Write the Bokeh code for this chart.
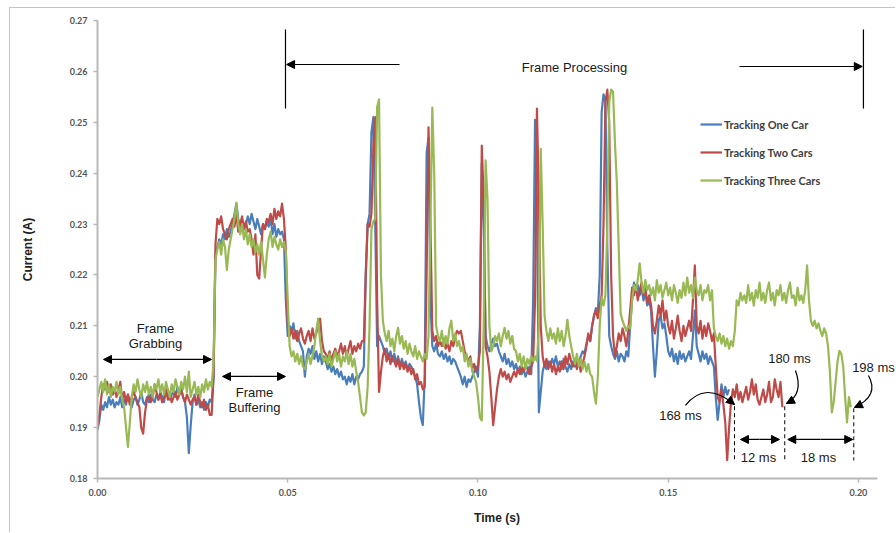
import numpy as np
from bokeh.plotting import figure
from bokeh.models import (Range1d, Legend, LegendItem, Label, Arrow, NormalHead,
                          FixedTicker, NumeralTickFormatter)
from bokeh.embed import file_html
from bokeh.resources import INLINE

# ---------------- data (current in A, sampled every 0.5 ms) ----------------
SAMPLE_STEP = 0.0005
x_ticks = [0.00, 0.05, 0.10, 0.15, 0.20]
y_ticks = [0.18, 0.19, 0.20, 0.21, 0.22, 0.23, 0.24, 0.25, 0.26, 0.27]
series_names = ["Tracking One Car", "Tracking Two Cars", "Tracking Three Cars"]

one_car = [
    .1895,.1915,.1945,.1935,.1950,.1940,.1960,.1945,.1955,.1940,
    .1950,.1945,.1960,.1940,.1955,.1945,.1965,.1950,.1940,.1955,
    .1960,.1945,.1955,.1970,.1950,.1945,.1960,.1950,.1965,.1955,
    .1950,.1965,.1955,.1970,.1960,.1950,.1975,.1960,.1955,.1965,
    .1970,.1960,.1980,.1965,.1975,.1960,.1950,.1920,.1850,.1905,
    .1950,.1965,.1945,.1955,.1940,.1950,.1935,.1950,.1940,.1955,
    .1950,.2000,.2240,.2255,.2270,.2260,.2280,.2270,.2290,.2275,
    .2285,.2300,.2320,.2340,.2310,.2295,.2305,.2290,.2300,.2315,
    .2300,.2320,.2305,.2290,.2310,.2295,.2280,.2300,.2290,.2305,
    .2295,.2310,.2280,.2300,.2275,.2290,.2280,.2285,.2270,.2150,
    .2080,.2100,.2090,.2105,.2075,.2090,.2070,.2060,.2050,.2000,
    .2040,.2055,.2045,.2060,.2035,.2050,.2030,.2045,.2025,.2040,
    .2030,.2015,.2025,.2010,.2020,.2005,.2015,.2000,.2010,.1995,
    .2000,.1985,.2000,.1990,.2005,.1985,.2000,.1995,.2005,.2010,
    .2020,.2200,.2300,.2320,.2480,.2510,.2300,.2060,.2080,.2070,
    .2060,.2045,.2055,.2035,.2050,.2030,.2045,.2025,.2040,.2020,
    .2035,.2020,.2030,.2015,.2025,.2020,.2010,.2000,.1985,.1950,
    .1920,.1905,.2000,.2440,.2470,.2150,.2060,.2050,.2065,.2045,
    .2040,.2050,.2035,.2045,.2030,.2040,.2025,.2035,.2030,.2020,
    .2010,.2000,.1985,.2000,.1980,.1995,.1990,.2000,.2010,.2020,
    .2000,.2100,.2419,.2300,.2080,.2060,.2050,.2065,.2075,.2060,
    .2065,.2050,.2040,.2030,.2045,.2025,.2035,.2020,.2030,.2015,
    .2025,.2010,.2020,.2005,.2015,.2000,.2010,.2020,.2005,.2150,
    .2505,.2350,.1930,.1970,.2010,.2025,.2015,.2030,.2020,.2035,
    .2025,.2040,.2020,.2030,.2015,.2035,.2020,.2010,.2025,.2015,
    .2030,.2020,.2035,.2025,.2040,.2050,.2045,.2065,.2080,.2070,
    .2100,.2120,.2135,.2125,.2200,.2520,.2555,.2540,.2250,.2080,
    .2060,.2045,.2035,.2050,.2030,.2045,.2040,.2030,.2050,.2040,
    .2100,.2150,.2185,.2170,.2180,.2160,.2175,.2150,.2165,.2140,
    .2150,.2130,.2060,.2000,.2050,.2110,.2120,.2095,.2105,.2080,
    .2050,.2040,.2055,.2030,.2045,.2025,.2050,.2035,.2045,.2030,
    .2040,.2050,.2035,.2080,.2130,.2060,.2045,.2030,.2050,.2035,
    .2045,.2025,.2040,.2030,.2020,.1960,.1915,.1950,.1985,.1960,
    .1980,.1965,.1975,
]

two_cars = [
    .1900,.1925,.1960,.1985,.1975,.1990,.1970,.1985,.1965,.1975,
    .1960,.1975,.1990,.1955,.1970,.1950,.1965,.1945,.1960,.1970,
    .1960,.1950,.1940,.1900,.1888,.1930,.1955,.1965,.1950,.1960,
    .1985,.1970,.1955,.1965,.1950,.1960,.1975,.1955,.1965,.1950,
    .1960,.1970,.1955,.1965,.1975,.1960,.1950,.1965,.1955,.1945,
    .1955,.1960,.1945,.1965,.1950,.1940,.1955,.1935,.1945,.1925,
    .1925,.2000,.2260,.2310,.2300,.2315,.2290,.2280,.2270,.2290,
    .2300,.2310,.2295,.2320,.2285,.2300,.2315,.2290,.2305,.2285,
    .2290,.2270,.2240,.2280,.2200,.2193,.2250,.2300,.2290,.2310,
    .2305,.2320,.2300,.2330,.2310,.2325,.2315,.2340,.2310,.2250,
    .2100,.2080,.2095,.2075,.2090,.2070,.2085,.2095,.2075,.2065,
    .2080,.2090,.2070,.2095,.2075,.2085,.2105,.2114,.2070,.2050,
    .2045,.2035,.2050,.2030,.2045,.2055,.2040,.2050,.2065,.2045,
    .2060,.2040,.2055,.2070,.2045,.2060,.2050,.2065,.2055,.2070,
    .2070,.2200,.2300,.2295,.2320,.2450,.2510,.2150,.1970,.2010,
    .2040,.2055,.2030,.2045,.2025,.2040,.2030,.2020,.2035,.2015,
    .2030,.2015,.2025,.2010,.2020,.2005,.2015,.1995,.2005,.1985,
    .1990,.1975,.1980,.2200,.2490,.2300,.2090,.2070,.2080,.2060,
    .2070,.2060,.2075,.2055,.2065,.2050,.2070,.2060,.2080,.2090,
    .2085,.2090,.2070,.2050,.2040,.2030,.2040,.2015,.2025,.2010,
    .2020,.2050,.2454,.2350,.2060,.2040,.2010,.1960,.1905,.1940,
    .1975,.2000,.2015,.2000,.2010,.1995,.2005,.1990,.2000,.2010,
    .2000,.2015,.2005,.2020,.2010,.2025,.2015,.2005,.2020,.2030,
    .2150,.2527,.2350,.2100,.2040,.2020,.2035,.2015,.2030,.2010,
    .2025,.2005,.2020,.2010,.2030,.2015,.2040,.2025,.2045,.2030,
    .2020,.2035,.2015,.2030,.2010,.2025,.2040,.2060,.2085,.2070,
    .2100,.2120,.2130,.2115,.2140,.2160,.2300,.2540,.2564,.2500,
    .2200,.2080,.2040,.2060,.2085,.2070,.2095,.2080,.2060,.2090,
    .2130,.2175,.2160,.2180,.2150,.2170,.2185,.2160,.2175,.2145,
    .2160,.2140,.2100,.2085,.2110,.2140,.2120,.2150,.2110,.2130,
    .2100,.2085,.2110,.2075,.2095,.2120,.2090,.2070,.2100,.2080,
    .2095,.2110,.2090,.2150,.2219,.2100,.2085,.2110,.2075,.2100,
    .2080,.2105,.2090,.2070,.2085,.2020,.1960,.1950,.1975,.1945,
    .1910,.1836,.1900,.1950,.1975,.1960,.1985,.1955,.1970,.1950,
    .1965,.1980,.1955,.1970,.1995,.1965,.1985,.1955,.1945,.1960,
    .1975,.1950,.1965,.1990,.1950,.1960,.1995,.1975,.1960,.1990,
    .1940,
]

three_cars = [
    .1960,.1975,.1990,.1970,.1995,.1965,.1985,.1960,.1980,.1970,
    .1990,.1965,.1980,.1955,.1940,.1900,.1862,.1910,.1960,.1985,
    .1970,.1995,.1975,.1960,.1985,.1970,.1990,.1965,.1980,.1960,
    .1985,.1975,.1995,.1970,.1985,.1965,.1990,.1975,.1960,.1985,
    .1970,.1995,.1980,.1965,.1990,.1975,.2000,.1970,.2010,.1960,
    .1975,.1990,.1965,.1980,.1960,.1985,.1970,.1995,.1975,.1990,
    .1980,.2030,.2230,.2250,.2265,.2240,.2270,.2255,.2210,.2250,
    .2270,.2290,.2310,.2342,.2300,.2280,.2300,.2270,.2290,.2260,
    .2280,.2255,.2270,.2245,.2260,.2240,.2265,.2230,.2195,.2240,
    .2270,.2285,.2255,.2275,.2260,.2250,.2270,.2255,.2265,.2245,
    .2150,.2060,.2040,.2050,.2030,.2045,.2025,.2040,.2020,.2015,
    .2030,.2045,.2025,.2040,.2060,.2090,.2114,.2070,.2040,.2030,
    .2040,.2025,.2045,.2020,.2035,.2050,.2030,.2045,.2020,.2040,
    .2030,.2050,.2025,.2045,.2020,.2035,.2010,.1990,.1960,.1930,
    .1924,.1930,.1980,.2100,.2290,.2305,.2310,.2530,.2545,.2200,
    .2110,.2085,.2070,.2090,.2060,.2075,.2050,.2080,.2096,.2065,
    .2080,.2055,.2070,.2045,.2065,.2050,.2040,.2060,.2035,.2050,
    .2040,.2030,.2045,.2035,.2080,.2300,.2529,.2400,.2100,.2080,
    .2070,.2090,.2060,.2080,.2065,.2095,.2110,.2070,.2085,.2060,
    .2070,.2050,.2060,.2030,.2045,.2020,.2035,.2010,.2000,.1990,
    .1960,.1920,.1914,.2100,.2425,.2350,.2100,.2050,.2060,.2080,
    .2070,.2085,.2060,.2080,.2096,.2075,.2090,.2065,.2080,.2055,
    .2050,.2030,.2045,.2020,.2040,.2015,.2035,.2025,.2040,.2030,
    .2040,.2030,.2100,.2448,.2300,.2120,.2090,.2070,.2095,.2075,
    .2085,.2065,.2095,.2070,.2090,.2060,.2080,.2112,.2080,.2060,
    .2040,.2025,.2045,.2020,.2035,.2015,.2030,.2010,.2025,.2005,
    .2000,.1970,.1947,.2000,.2100,.2156,.2140,.2160,.2300,.2540,
    .2564,.2560,.2460,.2380,.2250,.2124,.2110,.2100,.2090,.2100,
    .2095,.2150,.2180,.2170,.2190,.2223,.2185,.2165,.2190,.2170,
    .2180,.2160,.2175,.2150,.2190,.2165,.2180,.2155,.2170,.2185,
    .2160,.2175,.2150,.2180,.2165,.2145,.2170,.2155,.2185,.2160,
    .2195,.2165,.2180,.2155,.2195,.2170,.2160,.2180,.2150,.2170,
    .2165,.2180,.2150,.2170,.2095,.2080,.2070,.2085,.2065,.2080,
    .2060,.2075,.2055,.2070,.2060,.2090,.2150,.2140,.2165,.2150,
    .2160,.2145,.2180,.2150,.2165,.2140,.2170,.2155,.2185,.2150,
    .2165,.2145,.2170,.2185,.2150,.2165,.2140,.2170,.2160,.2180,
    .2150,.2165,.2145,.2170,.2185,.2155,.2160,.2140,.2175,.2150,
    .2160,.2145,.2170,.2219,.2150,.2110,.2100,.2110,.2095,.2105,
    .2090,.2080,.2095,.2085,.2060,.2010,.1930,.1950,.1990,.2030,
    .2051,.2045,.2020,.1960,.1910,.1960,.1940,
]

series_values = [one_car, two_cars, three_cars]
series_colors = ["#4a7ebb", "#be4b48", "#98b954"]

# ---------------- figure ----------------
# canvas placed at page (10, 8) after a 9/7 px margin and a 1 px border line
p = figure(width=886, height=525, output_backend="svg", toolbar_location=None,
           x_range=Range1d(0, 0.21), y_range=Range1d(0.18, 0.27),
           min_border_left=87, min_border_right=0, min_border_top=12,
           min_border_bottom=55)
p.styles = {"margin-left": "9px", "margin-top": "7px",
            "border-left": "1px solid #c4c4c4", "border-top": "1px solid #c4c4c4"}
p.xgrid.visible = False
p.ygrid.visible = False
p.outline_line_color = None
p.background_fill_color = "white"
p.border_fill_color = "white"

for ax, ticks in ((p.xaxis, x_ticks), (p.yaxis, y_ticks)):
    ax.ticker = FixedTicker(ticks=ticks)
    ax.formatter = NumeralTickFormatter(format="0.00")
    ax.axis_line_color = "#b8b8b8"
    ax.axis_line_width = 2
    ax.major_tick_line_color = "#b8b8b8"
    ax.major_tick_line_width = 1.5
    ax.major_tick_out = 4
    ax.major_tick_in = 0
    ax.minor_tick_line_color = None
    ax.major_label_text_font = "Lato"
    ax.major_label_text_font_style = "bold"
    ax.major_label_text_font_size = "9px"
    ax.major_label_text_color = "#555555"
    ax.major_label_standoff = 6
    ax.axis_label_text_font = "Liberation Sans"
    ax.axis_label_text_font_style = "bold"
    ax.axis_label_text_font_size = "12px"
    ax.axis_label_text_color = "#222222"

p.xaxis.bounds = (0, 0.205)
p.xaxis.axis_label = "Time (s)"
p.xaxis.axis_label_standoff = 12
p.yaxis.axis_label = "Current (A)"
p.yaxis.axis_label_standoff = 32

renderers = []
for vals, col in zip(series_values, series_colors):
    t = np.arange(len(vals)) * SAMPLE_STEP
    r = p.line(t, vals, line_color=col, line_width=2.2, line_join="round")
    renderers.append(r)

legend = Legend(items=[LegendItem(label=n, renderers=[r]) for n, r in zip(series_names, renderers)],
                location=(603, 288), padding=0, margin=0, spacing=8,
                glyph_width=22, glyph_height=20, label_height=20, label_standoff=2,
                border_line_color=None, background_fill_alpha=0,
                label_text_font="Lato", label_text_font_style="bold",
                label_text_font_size="11px", label_text_color="#404040")
p.add_layout(legend)

# ---------------- annotations ----------------
TXT_FONT = "Liberation Sans"
TXT_SIZE = "13px"
TXT_COLOR = "#1a1a1a"

def add_text(x, y, s):
    p.add_layout(Label(x=x, y=y, text=s, text_align="center", text_baseline="middle",
                       text_font=TXT_FONT, text_font_size=TXT_SIZE, text_color=TXT_COLOR))

def add_arrow(x0, y0, x1, y1, both=False):
    p.add_layout(Arrow(start=NormalHead(size=8, fill_color="black", line_color="black") if both else None,
                       end=NormalHead(size=8, fill_color="black", line_color="black"),
                       x_start=x0, y_start=y0, x_end=x1, y_end=y1,
                       line_color="black", line_width=1.2))

# Frame processing
p.segment(x0=[0.04941, 0.20131], y0=[0.26823, 0.26823], x1=[0.04941, 0.20131], y1=[0.25271, 0.25271],
          line_color="black", line_width=1.2)
add_arrow(0.07937, 0.26135, 0.04970, 0.26135)
add_arrow(0.16873, 0.26096, 0.20100, 0.26096)
add_text(0.12536, 0.26076, "Frame Processing")

# Frame grabbing / buffering
add_arrow(0.01550, 0.20340, 0.00158, 0.20340)
add_arrow(0.01550, 0.20340, 0.02996, 0.20340)
add_text(0.01524, 0.20948, "Frame")
add_text(0.01524, 0.20653, "Grabbing")
add_arrow(0.04110, 0.20005, 0.03285, 0.20005)
add_arrow(0.04110, 0.20005, 0.04941, 0.20005)
add_text(0.04126, 0.19690, "Frame")
add_text(0.04126, 0.19395, "Buffering")

# End-time markers
curves = [  # (x0, y0, cx, cy, x1, y1)
    (0.15453, 0.19435, 0.15966, 0.19936, 0.16741, 0.19454),
    (0.18344, 0.20122, 0.18568, 0.19661, 0.18108, 0.19474),
    (0.20263, 0.20024, 0.20560, 0.19631, 0.19895, 0.19395),
]
for x0, y0, cx, cy, x1, y1 in curves:
    p.quadratic(x0=x0, y0=y0, x1=x1, y1=y1, cx=cx, cy=cy, line_color="black", line_width=1.2)
    add_arrow(x1 - 0.2 * (x1 - cx), y1 - 0.2 * (y1 - cy), x1, y1)
add_text(0.15322, 0.19238, "168 ms")
add_text(0.18187, 0.20358, "180 ms")
add_text(0.20394, 0.20181, "198 ms")

p.segment(x0=[0.16741, 0.18063, 0.19877], y0=[0.19420, 0.19420, 0.19380],
          x1=[0.16741, 0.18063, 0.19877], y1=[0.18354, 0.18354, 0.18354],
          line_color="black", line_width=1, line_dash="4 3")
add_arrow(0.17400, 0.18767, 0.16899, 0.18767)
add_arrow(0.17400, 0.18767, 0.17924, 0.18767)
add_arrow(0.19000, 0.18767, 0.18142, 0.18767)
add_arrow(0.19000, 0.18767, 0.19850, 0.18767)
add_text(0.17372, 0.18413, "12 ms")
add_text(0.18949, 0.18413, "18 ms")

open("out.html", "w").write(file_html(p, INLINE))
